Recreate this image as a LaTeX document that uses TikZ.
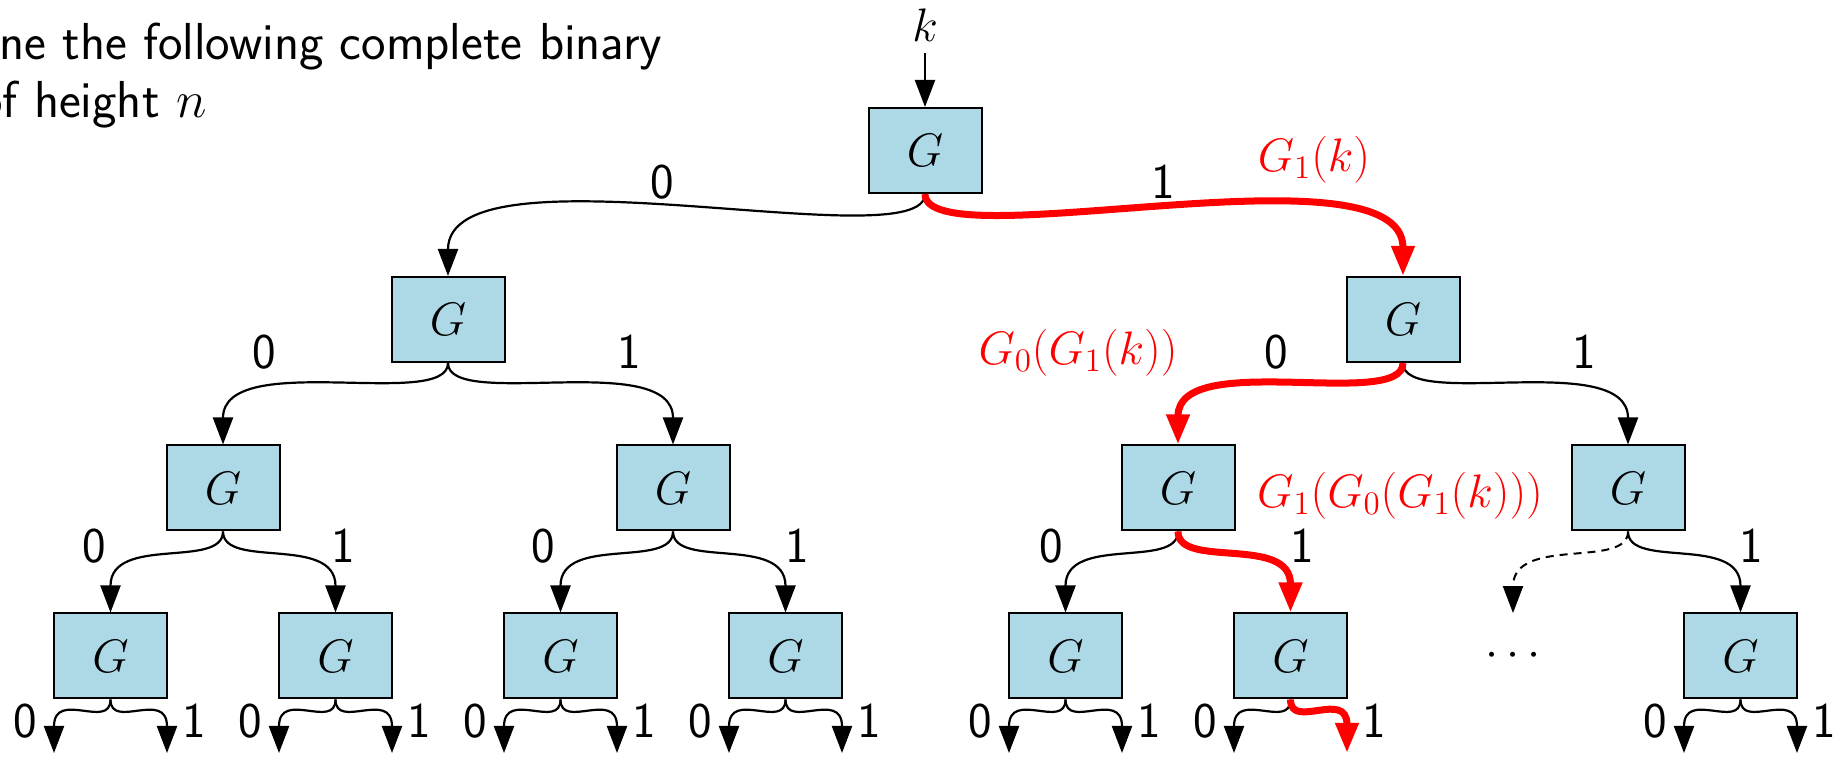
\RequirePackage{fix-cm}
\documentclass[tikz,border=0pt]{standalone}
\usetikzlibrary{arrows.meta}
\definecolor{boxblue}{RGB}{173,216,230}
\newcommand{\gmathsz}{\fontsize{23.5pt}{28pt}\selectfont}
\newcommand{\txtsz}{\sffamily\fontsize{26pt}{31pt}\selectfont}
\newcommand{\digsz}{\sffamily\fontsize{25pt}{30pt}\selectfont}
\begin{document}
\begin{tikzpicture}[x=0.5pt,y=-0.5pt,
  gbox/.style={draw=black,line width=1pt,fill=boxblue,minimum width=56.5pt,minimum height=42.5pt,inner sep=0pt,font=\gmathsz},
  lab/.style={font=\digsz,inner sep=0pt},
  intro/.style={font=\txtsz,inner sep=0pt},
  redlab/.style={font=\gmathsz,text=red,inner sep=0pt},
  blk/.style={line width=1.1pt,-{Triangle[length=13.5pt,width=10pt]}},
  dsh/.style={line width=1pt,dash pattern=on 4pt off 3pt,-{Triangle[length=13.5pt,width=10pt]}},
  redp/.style={red,line width=3.5pt,-{Triangle[length=15pt,width=11pt]}},
  lv0/.style={to path={.. controls +(0,67) and +(0,-136) .. (\tikztotarget)}},
  lv1/.style={to path={.. controls +(0,48) and +(0,-96) .. (\tikztotarget)}},
  lv2/.style={to path={.. controls +(0,38) and +(0,-78) .. (\tikztotarget)}},
  lv3/.style={to path={.. controls +(0,31) and +(0,-64) .. (\tikztotarget)}}]
\useasboundingbox (0,0) rectangle (1838,758);

% intro text
\node[intro,anchor=base west] (intro1) at (-1,60) {ne the following complete binary};
\node[intro,anchor=base west] (intro2) at (-22,118) {of height $n$};

% boxes
\node[gbox] (root) at (925,150.5) {$G$};
\node[gbox] (n1) at (448,319.5) {$G$};
\node[gbox] (n2) at (1403,319.5) {$G$};
\node[gbox] (n11) at (223,488) {$G$};
\node[gbox] (n12) at (673,488) {$G$};
\node[gbox] (n21) at (1178,488) {$G$};
\node[gbox] (n22) at (1628,488) {$G$};
\node[gbox] (n111) at (110.5,656) {$G$};
\node[gbox] (n112) at (335.5,656) {$G$};
\node[gbox] (n121) at (560.5,656) {$G$};
\node[gbox] (n122) at (785.5,656) {$G$};
\node[gbox] (n211) at (1065.5,656) {$G$};
\node[gbox] (n212) at (1290.5,656) {$G$};
\node[gbox] (n222) at (1740.5,656) {$G$};
\node[minimum width=56.5pt,minimum height=42.5pt,inner sep=0pt,font=\gmathsz] (dots) at (1513,656) {$\cdots$};

% input k
\node[font=\gmathsz,anchor=base,inner sep=0pt] (k) at (925,42) {$k$};
\draw[blk,shorten <=5.5pt] (k.south) -- (root.north);

% bottom outputs
\foreach \n/\x in {n111/110.5,n112/335.5,n121/560.5,n122/785.5,n211/1065.5,n212/1290.5,n222/1740.5}{
  \coordinate (\n-l) at (\x-56.5,753);
  \coordinate (\n-r) at (\x+56.5,753);
  \node[lab] (\n-zero) at (\x-85.5,721) {0};
  \node[lab] (\n-one) at (\x+83.5,721) {1};
}

% black edges
\draw[blk,lv0] (root.south) to (n1.north);
\draw[blk,lv1] (n1.south) to (n11.north);
\draw[blk,lv1] (n1.south) to (n12.north);
\draw[blk,lv1] (n2.south) to (n22.north);
\draw[blk,lv2] (n11.south) to (n111.north);
\draw[blk,lv2] (n11.south) to (n112.north);
\draw[blk,lv2] (n12.south) to (n121.north);
\draw[blk,lv2] (n12.south) to (n122.north);
\draw[blk,lv2] (n21.south) to (n211.north);
\draw[dsh,lv2] (n22.south) to (dots.north);
\draw[blk,lv2] (n22.south) to (n222.north);
\foreach \n in {n111,n112,n121,n122,n211,n212,n222}{
  \draw[blk,lv3] (\n.south) to (\n-l);
}
\foreach \n in {n111,n112,n121,n122,n211,n222}{
  \draw[blk,lv3] (\n.south) to (\n-r);
}

% red path
\draw[redp,lv0] (root.south) to (n2.north);
\draw[redp,lv1] (n2.south) to (n21.north);
\draw[redp,lv2] (n21.south) to (n212.north);
\draw[redp,lv3] (n212.south) to (n212-r);

% edge labels
\node[lab] (a0) at (662,182) {0};
\node[lab] (a1) at (1163,182) {1};
\node[lab] (b0) at (264,352) {0};
\node[lab] (b1) at (629,352) {1};
\node[lab] (c0) at (1276,352) {0};
\node[lab] (c1) at (1584,352) {1};
\node[lab] (d0) at (94,546) {0};
\node[lab] (d1) at (343,546) {1};
\node[lab] (e0) at (543,546) {0};
\node[lab] (e1) at (797,546) {1};
\node[lab] (f0) at (1051,546) {0};
\node[lab] (f1) at (1302,546) {1};
\node[lab] (g1) at (1751,546) {1};

% red labels
\node[redlab] (r1) at (1314,160) {$G_1(k)$};
\node[redlab] (r2) at (1078,353) {$G_0(G_1(k))$};
\node[redlab] (r3) at (1400,496) {$G_1(G_0(G_1(k)))$};
\end{tikzpicture}
\end{document}
